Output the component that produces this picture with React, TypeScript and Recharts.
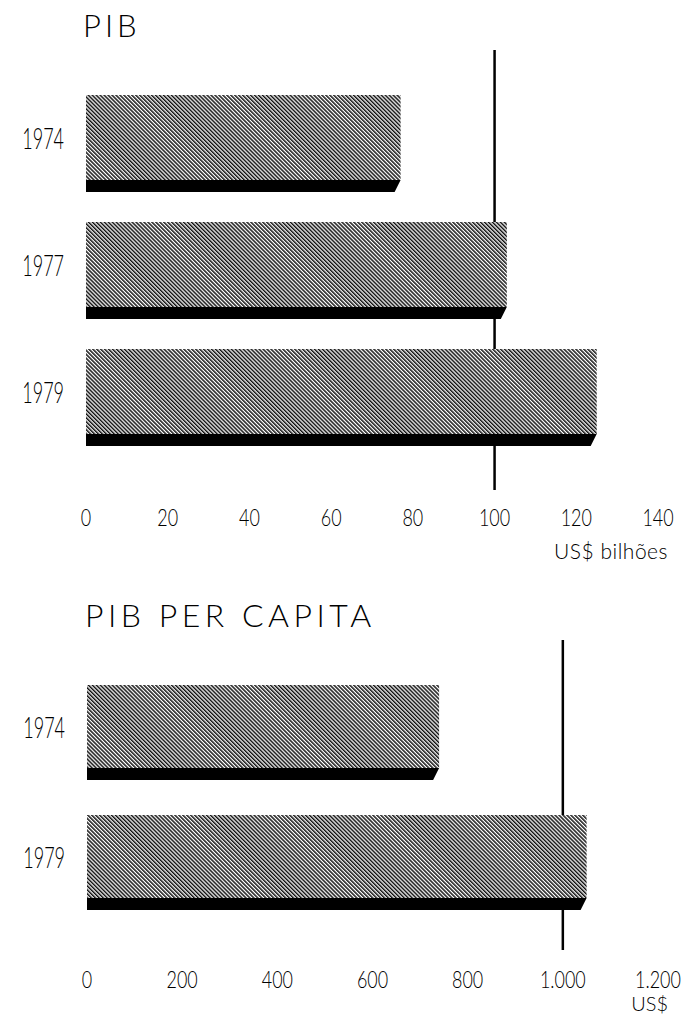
import { BarChart, Bar, XAxis, YAxis, ReferenceLine } from 'recharts';

const pibYears = ['1974', '1977', '1979'];
const pibValues = [77, 103, 125];
const pibTicks = [0, 20, 40, 60, 80, 100, 120, 140];

const capYears = ['1974', '1979'];
const capValues = [740, 1050];
const capTicks = [0, 200, 400, 600, 800, 1000, 1200];
const capTickLabels = ['0', '200', '400', '600', '800', '1.000', '1.200'];

const pibData = pibYears.map((year, i) => ({ year, value: pibValues[i] }));
const capData = capYears.map((year, i) => ({ year, value: capValues[i] }));

const font = "Lato, 'Open Sans', sans-serif";

// hatched face + black shadow strip with a bevelled right end
const HatchBar = (props: any) => {
  const { x, y, width, height } = props;
  const s = 12;
  const face = height - s;
  return (
    <g>
      <rect x={x} y={y} width={width} height={face} fill="url(#hatch)" />
      <polygon
        points={`${x},${y + face} ${x + width},${y + face} ${x + width - 6},${y + height} ${x},${y + height}`}
        fill="#000"
      />
    </g>
  );
};

const XTick = (p: any) => {
  const label = p.labels ? p.labels[p.index] : String(p.payload.value);
  return (
    <text
      transform={`translate(${p.x},${p.y + p.off}) scale(0.78,1)`}
      textAnchor="middle"
      dy="0.36em"
      fontSize={23}
      fontWeight={300}
      fontFamily={font}
      fill="#000"
    >
      {label}
    </text>
  );
};

const YTick = (p: any) => (
  <text
    transform={`translate(${p.x - 22},${p.y - 5}) scale(0.6,1)`}
    textAnchor="end"
    dy="0.36em"
    fontSize={30}
    fontWeight={300}
    fontFamily={font}
    fill="#000"
  >
    {p.payload.value}
  </text>
);

const refShape = (up: number, down: number) => (p: any) => {
  const top = Math.min(p.y1, p.y2);
  const bot = Math.max(p.y1, p.y2);
  return <line x1={p.x1} x2={p.x2} y1={top - up} y2={bot + down} stroke="#000" strokeWidth={2.5} />;
};

type PanelProps = {
  top: number;
  height: number;
  marginTop: number;
  marginBottom: number;
  data: any[];
  domain: [number, number];
  ticks: number[];
  labels?: string[];
  tickOff: number;
  refValue: number;
  refUp: number;
  refDown: number;
  barSize: number;
  yWidth: number;
};

// the reference line sits in a chart underneath, so the bars cover it
const Panel = (p: PanelProps) => {
  const common = {
    width: 685,
    height: p.height,
    data: p.data,
    layout: 'vertical' as const,
    margin: { top: p.marginTop, right: 27, bottom: p.marginBottom, left: 0 },
  };
  return (
    <>
      <div style={{ position: 'absolute', left: 0, top: p.top }}>
        <BarChart {...common}>
          <XAxis type="number" domain={p.domain} ticks={p.ticks} height={60}
            axisLine={false} tickLine={false} tick={false} />
          <YAxis type="category" dataKey="year" width={p.yWidth}
            axisLine={false} tickLine={false} tick={false} />
          <Bar dataKey="value" barSize={p.barSize} fill="transparent" isAnimationActive={false} />
          <ReferenceLine x={p.refValue} shape={refShape(p.refUp, p.refDown)} />
        </BarChart>
      </div>
      <div style={{ position: 'absolute', left: 0, top: p.top }}>
        <BarChart {...common}>
          <XAxis type="number" domain={p.domain} ticks={p.ticks} height={60}
            axisLine={false} tickLine={false} tickSize={0} tickMargin={0}
            tick={(t: any) => <XTick {...t} off={p.tickOff} labels={p.labels} />} />
          <YAxis type="category" dataKey="year" width={p.yWidth}
            axisLine={false} tickLine={false} tickSize={0} tickMargin={0}
            tick={(t: any) => <YTick {...t} />} />
          <Bar dataKey="value" barSize={p.barSize} shape={HatchBar} isAnimationActive={false} />
        </BarChart>
      </div>
    </>
  );
};

export default function App() {
  return (
    <div style={{ position: 'absolute', left: 0, top: 0, width: 685, height: 1017, background: '#fff' }}>
      <svg width={685} height={1017} style={{ position: 'absolute', left: 0, top: 0 }}>
        <defs>
          <pattern id="hatch" width="2.8" height="2.8" patternUnits="userSpaceOnUse" patternTransform="rotate(-45)">
            <rect width="2.8" height="2.8" fill="#fff" />
            <rect width="1.5" height="2.8" fill="#111" />
          </pattern>
        </defs>
        <g fontFamily={font} fontWeight={300} fill="#000">
          <text x={83} y={37} fontSize={31} letterSpacing={4}>PIB</text>
          <text x={85} y={627} fontSize={32} letterSpacing={4.5}>PIB PER CAPITA</text>
          <text x={668} y={559} fontSize={21} textAnchor="end" letterSpacing={0.5}>US$ bilhões</text>
          <text x={668} y={1011} fontSize={20} textAnchor="end">US$</text>
        </g>
      </svg>

      <Panel top={0} height={570} marginTop={80} marginBottom={49} data={pibData}
        domain={[0, 140]} ticks={pibTicks} tickOff={57}
        refValue={100} refUp={30} refDown={29} barSize={97} yWidth={86} />

      <Panel top={570} height={447} marginTop={97} marginBottom={30} data={capData}
        domain={[0, 1200]} ticks={capTicks} labels={capTickLabels} tickOff={53}
        refValue={1000} refUp={27} refDown={23} barSize={95} yWidth={87} />
    </div>
  );
}
